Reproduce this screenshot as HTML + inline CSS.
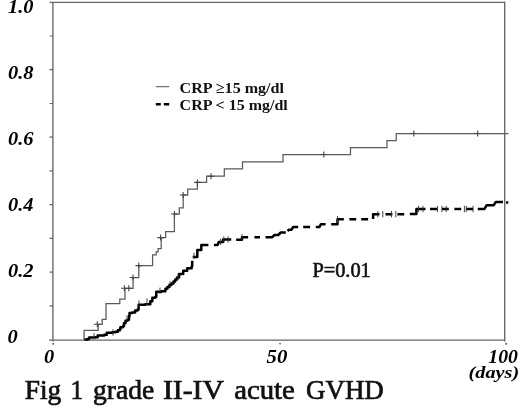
<!DOCTYPE html>
<html lang="en">
<head>
<meta charset="utf-8">
<title>Fig 1 grade II-IV acute GVHD</title>
<style>
html,body{margin:0;padding:0;background:#fff;}
body{width:520px;height:416px;overflow:hidden;font-family:"Liberation Serif",serif;}
svg{display:block;}
</style>
</head>
<body>
<svg width="520" height="416" viewBox="0 0 520 416">
<rect width="520" height="416" fill="#fff"/>
<g fill="none" stroke="#666" stroke-width="1.35">
<path d="M49,340.1 H504.7 M52.9,2.3 V341.6 M49.6,2.3 H504.7 M504.7,1.6 V341.6"/>
<path d="M49.6,36.0 H52.9 M49.6,69.7 H52.9 M49.6,103.5 H52.9 M49.6,137.2 H52.9 M49.6,170.9 H52.9 M49.6,204.6 H52.9 M49.6,238.3 H52.9 M49.6,272.1 H52.9 M49.6,305.8 H52.9" stroke-width="1.2"/>
</g>
<g fill="#333"><circle cx="53.1" cy="343.8" r="0.9"/><circle cx="280" cy="343.7" r="0.8"/><circle cx="506.2" cy="343.8" r="0.9"/></g>
<path d="M84.1,340 V330.3 H98.2 V324.3 H102.2 V319.3 H106 V303.6 H119.8 V299 H125 V288.3 H133.1 V277.5 H138.8 V265.6 H152.6 V254.9 H156.2 V251.8 H158.1 V248.6 H161.2 V237.6 H165.6 V231.5 H174.4 V214 H179.3 V207.9 H183.2 V195 H187.7 V189.1 H197.4 V182.4 H206.6 V176.2 H224.3 V168.8 H242.5 V161.8 H283 V154.5 H350.5 V147.5 H387 V140.5 H396.2 V133.5 H508.5" fill="none" stroke="#5a5a5a" stroke-width="1.25"/>
<path d="M97.3,321.3 v6 M94.0,324.3 h6.6 M124.4,285.3 v6 M121.1,288.3 h6.6 M128.8,285.3 v6 M125.5,288.3 h6.6 M133.0,274.5 v6 M129.7,277.5 h6.6 M138.8,262.6 v6 M135.5,265.6 h6.6 M160.6,234.6 v6 M157.3,237.6 h6.6 M174.4,211.0 v6 M171.1,214.0 h6.6 M183.1,192.0 v6 M179.8,195.0 h6.6 M197.4,179.4 v6 M194.1,182.4 h6.6 M211.0,173.2 v6 M207.7,176.2 h6.6 M323.8,151.5 v6 M320.5,154.5 h6.6 M413.8,130.5 v6 M410.5,133.5 h6.6 M477.7,130.5 v6 M474.4,133.5 h6.6" fill="none" stroke="#444" stroke-width="1.1"/>
<g fill="none" stroke="#000" stroke-width="2.5" stroke-linejoin="round">
<path d="M84.5,339.4 H87.6 V338.9 H89.1 V337.4 H95.2 V337.2 H97.7 V335.4 H104.2 V334.8 H106.8 V332.8 H112.3 V332.3 H115.4 V331.8 H117.9 V330.3 H119.9 V329.3 H120.4 V327.3 H122.9 V326.3 H123.9 V323.2 H125.5 V320.7 H127.5 V319.7 H129.0 V316.2 H129.5 V313.0 H132.0 V312.6 H135.1 V310.4 H137.6 V309.4 H138.6 V304.8 H145.2 V304.3 H150.3 V301.3 H152.3 V297.8 H155.3 V296.7 H156.3 V291.7 H161.4 V291.2 H165.4 V288.7 H167.4 V286.9 H169.4 V285.1 H171.4 V283.4 H173.5 V281.6 H175.2 V279.6 H177.0 V277.6 H179.1 V273.9 H183.2 V270.8 H187.2 V268.3 H191.7 V266.3 H192.2 V260.7"/>
<path d="M192.7,257 H197.3 V250.1 H201.3 V245.1 H208.4 M213.9,245 H217.6 L218.8,242 H223.1 V239.5 H231.2 M236.2,239.8 H242 V237.3 H248.1 M254.4,237.3 H260 M265.6,237.3 H272 L274.5,235 H278.2 L280.8,232.5 H285.8 M287.5,231 L288.9,229.8 H291.4 L293.2,227 H298.2 M303.2,227 H310.1 M315.8,227 H319.5 L320.8,224.2 H325.6 M331.2,224.2 H337.5 V219.3 H343.8 M349.4,219.3 H356.2 M361.2,219.3 H368.1 M373.1,218.9 V214.2 H379.5 M385.5,214.2 H392.4 M397.4,214.2 H404.2 M409.9,214 H416.4 V209 H425.5 M430,209 H437.5 M441.9,209 H448.8 M454.4,209 H461.2 M466.2,209 H473.1 M477.8,208.9 H484.5 L486.7,205.2 H493.8 L495.8,201.9 H503 M506,202.6 H508.3"/>
</g>
<path d="M94.0,333.1 v6.4 M113.0,329.2 v6.4 M127.0,315.3 v6.4 M139.0,300.3 v6.4 M147.0,298.3 v6.4 M160.0,287.6 v6.4 M170.0,281.3 v6.4 M178.0,273.8 v6.4 M194.0,252.8 v6.4 M220.6,238.6 v6.4 M223.8,236.3 v6.4 M228.1,236.3 v6.4 M242.0,234.1 v6.4 M337.5,216.1 v6.4 M377.8,211.0 v6.4 M382.8,211.0 v6.4 M391.5,211.0 v6.4 M395.8,211.0 v6.4 M418.6,205.8 v6.4 M423.0,205.8 v6.4 M437.5,205.8 v6.4 M441.9,205.8 v6.4 M446.2,205.8 v6.4 M464.4,205.8 v6.4 M473.1,205.8 v6.4 M466.2,205.8 v6.4" fill="none" stroke="#333" stroke-width="0.9"/>
<path d="M155.8,86.6 H169.2" stroke="#777" stroke-width="1.3" fill="none"/>
<path d="M155.8,104.3 H160.8 M163.8,104.3 H169.2" stroke="#000" stroke-width="2.4" fill="none"/>
<g font-family="'Liberation Serif', serif" fill="#111">
<text x="179.6" y="92.8" font-size="15.5" font-weight="bold" textLength="104.4" lengthAdjust="spacingAndGlyphs">CRP ≥15 mg/dl</text>
<text x="179.6" y="109.7" font-size="15.5" font-weight="bold" textLength="108.2" lengthAdjust="spacingAndGlyphs">CRP &lt; 15 mg/dl</text>
<text x="312.4" y="276.8" font-size="20" stroke="#111" stroke-width="0.6" textLength="58.4" lengthAdjust="spacingAndGlyphs">P=0.01</text>
<text y="398.5" font-size="27" stroke="#111" stroke-width="0.7"><tspan x="24.8" textLength="36.5" lengthAdjust="spacingAndGlyphs">Fig</tspan> <tspan x="70.4" textLength="12.6" lengthAdjust="spacingAndGlyphs">1</tspan> <tspan x="93.0" textLength="61.2" lengthAdjust="spacingAndGlyphs">grade</tspan> <tspan x="162.9" textLength="60.5" lengthAdjust="spacingAndGlyphs">II-IV</tspan> <tspan x="234.2" textLength="60.7" lengthAdjust="spacingAndGlyphs">acute</tspan> <tspan x="306.0" textLength="77.8" lengthAdjust="spacingAndGlyphs">GVHD</tspan></text>
</g>
<g font-family="'Liberation Serif', serif" fill="#000" font-weight="bold" font-style="italic" font-size="19.5">
<text x="8" y="12.5" textLength="25.5" lengthAdjust="spacingAndGlyphs">1.0</text>
<text x="8" y="78.5" textLength="25.5" lengthAdjust="spacingAndGlyphs">0.8</text>
<text x="8" y="144.5" textLength="25.5" lengthAdjust="spacingAndGlyphs">0.6</text>
<text x="8" y="210.6" textLength="25.5" lengthAdjust="spacingAndGlyphs">0.4</text>
<text x="8" y="276.5" textLength="25.5" lengthAdjust="spacingAndGlyphs">0.2</text>
<text x="7.6" y="342.5" textLength="10.2" lengthAdjust="spacingAndGlyphs">0</text>
<text x="44" y="363.2" textLength="10.2" lengthAdjust="spacingAndGlyphs">0</text>
<text x="266.6" y="363.4" textLength="20.8" lengthAdjust="spacingAndGlyphs">50</text>
<text x="488.3" y="363.2" textLength="29.6" lengthAdjust="spacingAndGlyphs">100</text>
<text x="468.6" y="378.4" font-size="17.2" textLength="50.6" lengthAdjust="spacingAndGlyphs">(days)</text>
</g>
</svg>
</body>
</html>
